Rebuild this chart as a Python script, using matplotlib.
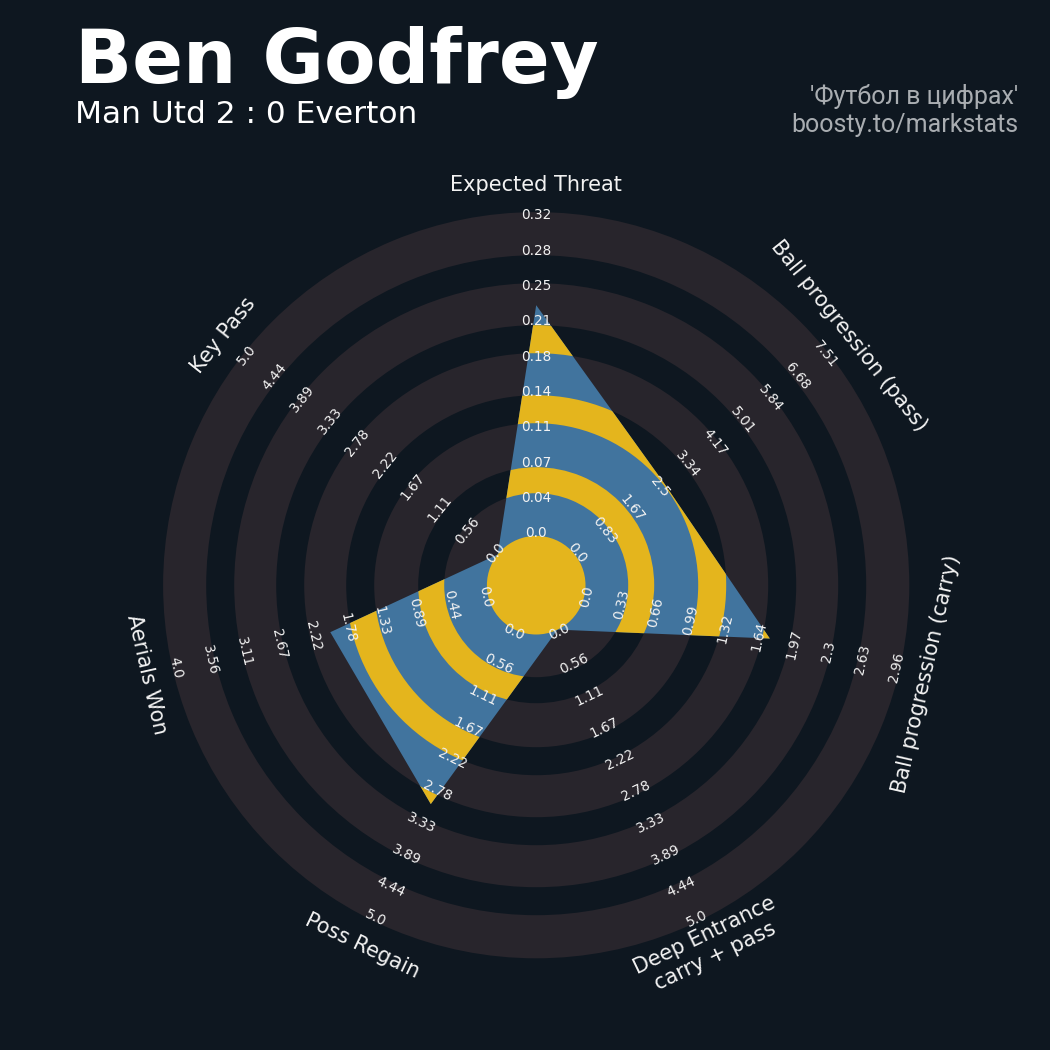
import numpy as np
import matplotlib
matplotlib.use("Agg")
import matplotlib.pyplot as plt
from matplotlib.patches import Wedge, Polygon, Circle

# --- data -------------------------------------------------------------
params = ["Expected Threat", "Ball progression (pass)", "Ball progression (carry)",
          "Deep Entrance\ncarry + pass", "Poss Regain", "Aerials Won", "Key Pass"]
low = [0, 0, 0, 0, 0, 0, 0]
high = [0.32, 7.51, 2.96, 5.0, 5.0, 4.0, 5.0]
values = [0.228, 2.65, 1.74, 0.0, 2.99, 2.0, 0.0]

title = "Ben Godfrey"
subtitle = "Man Utd 2 : 0 Everton"
credit_lines = ["'Футбол в цифрах'", "boosty.to/markstats"]

# --- style ------------------------------------------------------------
BG = "#0E1720"
RING = "#28252C"
BLUE = "#41749E"
YELLOW = "#E4B51D"

W = H = 1050
cx, cy = 536.2, 585.2          # radar centre in pixels
r0, R = 49.3, 373.1            # centre circle / outer radius
gaps = [(92, 118), (162, 190), (232, 260), (302, 330)]  # light bands

fig = plt.figure(figsize=(W / 100, H / 100), dpi=100, facecolor=BG)
ax = fig.add_axes([0, 0, 1, 1])
ax.set_xlim(-cx, W - cx)
ax.set_ylim(-(H - cy), cy)
ax.set_aspect("equal")
ax.axis("off")

n = len(params)
theta = np.deg2rad(90 - np.arange(n) * 360 / n)


def radius(v, lo, hi):
    return r0 + (v - lo) / (hi - lo) * (R - r0)


def text_rot(t):
    rot = np.rad2deg(t) - 90
    rot = (rot + 180) % 360 - 180
    if rot < -90 or rot > 90:
        rot = (rot + 360) % 360 - 180
    return rot


# background rings
ax.add_patch(Wedge((0, 0), R, 0, 360, width=R - r0, facecolor=RING, edgecolor="none", zorder=1))
for a, b in gaps:
    ax.add_patch(Wedge((0, 0), b, 0, 360, width=b - a, facecolor=BG, edgecolor="none", zorder=1.5))

# radar polygon
rad = np.array([radius(v, lo, hi) for v, lo, hi in zip(values, low, high)])
verts = np.column_stack([rad * np.cos(theta), rad * np.sin(theta)])
poly = Polygon(verts, closed=True, facecolor=BLUE, edgecolor="none", zorder=2)
ax.add_patch(poly)
for a, b in gaps:
    ring = Wedge((0, 0), b, 0, 360, width=b - a, facecolor=YELLOW, edgecolor="none", zorder=3)
    ax.add_patch(ring)
    ring.set_clip_path(poly)
ax.add_patch(Circle((0, 0), r0, facecolor=YELLOW, edgecolor="none", zorder=4))

# range labels
label_r = np.linspace(52, 370, 10)
for t, lo, hi in zip(theta, low, high):
    rot = text_rot(t)
    for r, v in zip(label_r, np.linspace(lo, hi, 10)):
        ax.text(r * np.cos(t), r * np.sin(t), str(round(float(v), 2)), fontsize=9.8,
                color="#F2F2F2", ha="center", va="center", rotation=rot,
                rotation_mode="anchor", zorder=6)

# parameter labels
for t, p in zip(theta, params):
    ax.text(400 * np.cos(t), 400 * np.sin(t), p, fontsize=15, color="#F2F2F2",
            ha="center", va="center", rotation=text_rot(t), rotation_mode="anchor",
            multialignment="center", zorder=6)

# titles
fig.text(75 / W, 1 - 83 / H, title, fontsize=54, weight="bold", color="white", va="baseline")
fig.text(75 / W, 1 - 123 / H, subtitle, fontsize=22.5, color="white", va="baseline")
fig.text(1018 / W, 1 - 104 / H, credit_lines[0], fontsize=18, family="Roboto",
         color="#A9ADB1", ha="right", va="baseline")
fig.text(1018 / W, 1 - 132 / H, credit_lines[1], fontsize=18, family="Roboto",
         color="#A9ADB1", ha="right", va="baseline")

fig.savefig("out.png", dpi=100, facecolor=BG)
